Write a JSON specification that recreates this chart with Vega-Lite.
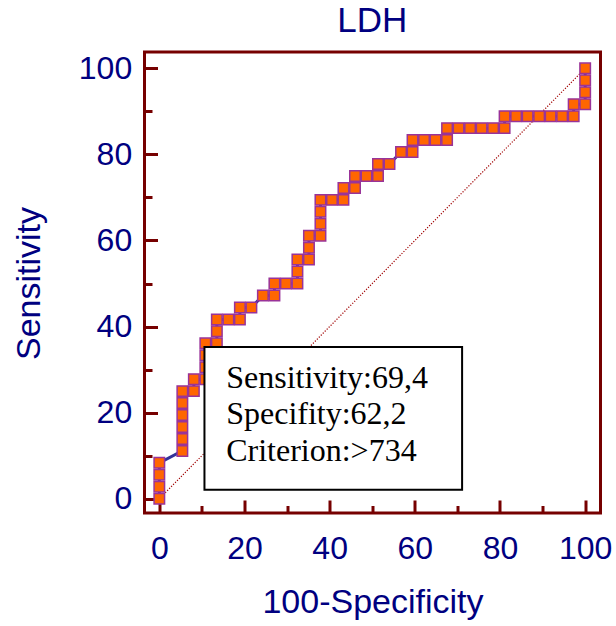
{
  "$schema": "https://vega.github.io/schema/vega-lite/v6.json",
  "autosize": "none",
  "width": 456,
  "height": 461,
  "padding": {"left": 144.5, "top": 52, "right": 15.5, "bottom": 113},
  "background": "white",
  "config": {
    "view": {"stroke": "#760000", "strokeWidth": 3},
    "axis": {"domain": false, "grid": false, "labelFont": "Liberation Sans", "labelFontSize": 32, "labelColor": "#000080", "titleFont": "Liberation Sans", "titleFontSize": 34, "titleFontWeight": "normal", "titleColor": "#000080", "tickColor": "#760000", "tickWidth": 3, "labelOverlap": false, "labelFlush": false}
  },
  "datasets": {
    "roc": [
      {"i": 1, "x": 0, "y": 0}, {"i": 2, "x": 0, "y": 2.78}, {"i": 3, "x": 0, "y": 5.56}, {"i": 4, "x": 0, "y": 8.33},
      {"i": 5, "x": 5.41, "y": 11.11}, {"i": 6, "x": 5.41, "y": 13.89}, {"i": 7, "x": 5.41, "y": 16.67}, {"i": 8, "x": 5.41, "y": 19.44},
      {"i": 9, "x": 5.41, "y": 22.22}, {"i": 10, "x": 5.41, "y": 25}, {"i": 11, "x": 8.11, "y": 25}, {"i": 12, "x": 8.11, "y": 27.78},
      {"i": 13, "x": 10.81, "y": 27.78}, {"i": 14, "x": 10.81, "y": 30.56}, {"i": 15, "x": 10.81, "y": 33.33}, {"i": 16, "x": 10.81, "y": 36.11},
      {"i": 17, "x": 13.51, "y": 36.11}, {"i": 18, "x": 13.51, "y": 38.89}, {"i": 19, "x": 13.51, "y": 41.67}, {"i": 20, "x": 16.22, "y": 41.67},
      {"i": 21, "x": 18.92, "y": 41.67}, {"i": 22, "x": 18.92, "y": 44.44}, {"i": 23, "x": 21.62, "y": 44.44}, {"i": 24, "x": 24.32, "y": 47.22},
      {"i": 25, "x": 27.03, "y": 47.22}, {"i": 26, "x": 27.03, "y": 50}, {"i": 27, "x": 29.73, "y": 50}, {"i": 28, "x": 32.43, "y": 50},
      {"i": 29, "x": 32.43, "y": 52.78}, {"i": 30, "x": 32.43, "y": 55.56}, {"i": 31, "x": 35.14, "y": 55.56}, {"i": 32, "x": 35.14, "y": 58.33},
      {"i": 33, "x": 35.14, "y": 61.11}, {"i": 34, "x": 37.84, "y": 61.11}, {"i": 35, "x": 37.84, "y": 63.89}, {"i": 36, "x": 37.84, "y": 66.67},
      {"i": 37, "x": 37.84, "y": 69.44}, {"i": 38, "x": 40.54, "y": 69.44}, {"i": 39, "x": 43.24, "y": 69.44}, {"i": 40, "x": 43.24, "y": 72.22},
      {"i": 41, "x": 45.95, "y": 72.22}, {"i": 42, "x": 45.95, "y": 75}, {"i": 43, "x": 48.65, "y": 75}, {"i": 44, "x": 51.35, "y": 75},
      {"i": 45, "x": 51.35, "y": 77.78}, {"i": 46, "x": 54.05, "y": 77.78}, {"i": 47, "x": 56.76, "y": 80.56}, {"i": 48, "x": 59.46, "y": 80.56},
      {"i": 49, "x": 59.46, "y": 83.33}, {"i": 50, "x": 62.16, "y": 83.33}, {"i": 51, "x": 64.86, "y": 83.33}, {"i": 52, "x": 67.57, "y": 83.33},
      {"i": 53, "x": 67.57, "y": 86.11}, {"i": 54, "x": 70.27, "y": 86.11}, {"i": 55, "x": 72.97, "y": 86.11}, {"i": 56, "x": 75.68, "y": 86.11},
      {"i": 57, "x": 78.38, "y": 86.11}, {"i": 58, "x": 81.08, "y": 86.11}, {"i": 59, "x": 81.08, "y": 88.89}, {"i": 60, "x": 83.78, "y": 88.89},
      {"i": 61, "x": 86.49, "y": 88.89}, {"i": 62, "x": 89.19, "y": 88.89}, {"i": 63, "x": 91.89, "y": 88.89}, {"i": 64, "x": 94.59, "y": 88.89},
      {"i": 65, "x": 97.3, "y": 88.89}, {"i": 66, "x": 97.3, "y": 91.67}, {"i": 67, "x": 100, "y": 91.67}, {"i": 68, "x": 100, "y": 94.44},
      {"i": 69, "x": 100, "y": 97.22}, {"i": 70, "x": 100, "y": 100}
    ],
    "note": [{"title": "LDH"}]
  },
  "layer": [
    {"data": {"name": "note"},
     "mark": {"type": "rule", "color": "#a00000", "strokeWidth": 1.2, "strokeDash": [1.2, 1.6]},
     "encoding": {
       "x": {"datum": 0, "type": "quantitative",
         "scale": {"domain": [-3.48, 103.6], "nice": false, "zero": false},
         "axis": {"title": "100-Specificity", "values": [0,5,10,15,20,25,30,35,40,45,50,55,60,65,70,75,80,85,90,95,100],
           "labelExpr": "datum.value % 20 === 0 ? datum.label : ''",
           "tickSize": {"condition": {"test": "datum.value % 20 === 0", "value": -13}, "value": -7.5},
           "labelPadding": 58.7, "labelBaseline": "alphabetic",
           "titleY": 99, "titleBaseline": "alphabetic"}},
       "y": {"datum": 0, "type": "quantitative",
         "scale": {"domain": [-3.32, 103.8], "nice": false, "zero": false},
         "axis": {"title": "Sensitivity", "values": [0,5,10,15,20,25,30,35,40,45,50,55,60,65,70,75,80,85,90,95,100],
           "labelExpr": "datum.value % 20 === 0 ? datum.label : ''",
           "tickSize": {"condition": {"test": "datum.value % 20 === 0", "value": -13}, "value": -7.5},
           "labelPadding": 25.8,
           "titleX": -105, "titleY": 231, "titleAngle": -90, "titleAlign": "center", "titleBaseline": "alphabetic"}},
       "x2": {"datum": 100}, "y2": {"datum": 100}}},
    {"data": {"name": "roc"},
     "mark": {"type": "line", "color": "#333399", "strokeWidth": 3},
     "encoding": {"x": {"field": "x", "type": "quantitative"}, "y": {"field": "y", "type": "quantitative"}, "order": {"field": "i"}}},
    {"data": {"name": "roc"},
     "mark": {"type": "point", "shape": "square", "size": 110, "filled": true, "fill": "#ff6600", "stroke": "#993399", "strokeWidth": 1.5, "opacity": 1},
     "encoding": {"x": {"field": "x", "type": "quantitative"}, "y": {"field": "y", "type": "quantitative"}}},
    {"data": {"name": "note"},
     "mark": {"type": "rect", "fill": "white", "stroke": "black", "strokeWidth": 2},
     "encoding": {"x": {"datum": 10.6}, "x2": {"datum": 71.1}, "y": {"datum": 35.25}, "y2": {"datum": 2.1}}},
    {"data": {"name": "note"},
     "mark": {"type": "text", "text": ["Sensitivity:69,4", "Specifity:62,2", "Criterion:>734"], "font": "Liberation Serif", "fontSize": 32, "color": "black", "align": "left", "baseline": "alphabetic", "lineHeight": 36.5},
     "encoding": {"x": {"datum": 15.7}, "y": {"datum": 25.8}}},
    {"data": {"name": "note"},
     "mark": {"type": "text", "font": "Liberation Sans", "fontSize": 35, "color": "#000080", "align": "center", "baseline": "alphabetic"},
     "encoding": {"text": {"field": "title"}, "x": {"datum": 50}, "y": {"datum": 108.45}}}
  ]
}
